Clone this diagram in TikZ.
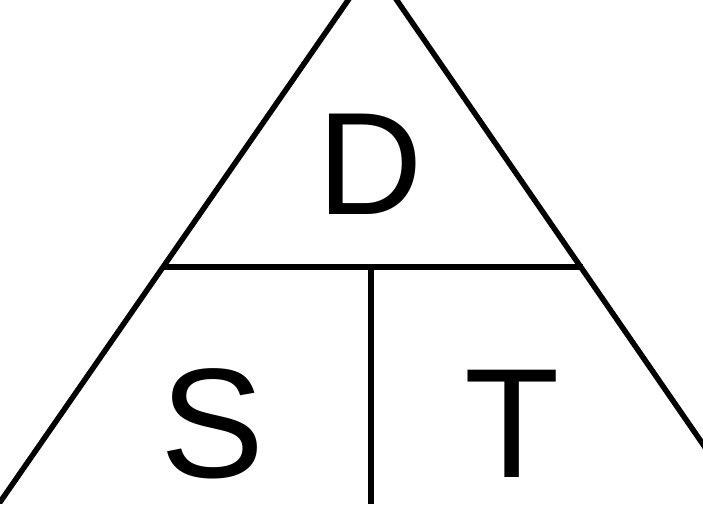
\documentclass[tikz,border=0pt]{standalone}
\usepackage{fontspec}
\setmainfont{Liberation Sans}
\usetikzlibrary{positioning}

\tikzset{
  side/.style = {line width=5.5pt},
  letter/.style = {inner sep=0pt, font=\fontsize{156}{156}\selectfont},
}

\begin{document}
\begin{tikzpicture}[x=1pt, y=-1pt]
\useasboundingbox (0,0) rectangle (703,518);
\clip (0,0) rectangle (703,503);
\coordinate (apex) at (372.5,-35);
\coordinate (bl) at (-20,531);
\coordinate (br) at (780,556);
\coordinate (ml) at (163,267);
\coordinate (mr) at (583,267);
\coordinate (mm) at (371,267);
\coordinate (mb) at (371,510);
\node[letter, font=\fontsize{146}{146}\selectfont] (d) at (370,164) {D};
\node[letter] (s) at (213,424) {S};
\node[letter] (t) at (512,424) {T};
\draw [side] (bl) -- (apex) -- (br);
\draw [side] (ml) -- (mr);
\draw [side] (mm) -- (mb);
\end{tikzpicture}
\end{document}
